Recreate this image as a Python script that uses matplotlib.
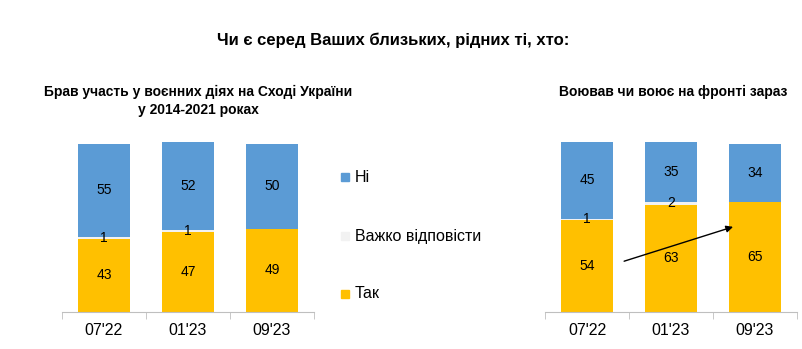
import matplotlib.pyplot as plt
import numpy as np

plt.rcParams['font.family'] = ['Liberation Sans', 'DejaVu Sans']

waves = ["07'22", "01'23", "09'23"]

# left: took part in fighting in the East 2014-2021
left_yes = [43, 47, 49]
left_dk = [1, 1, 0]
left_no = [55, 52, 50]

# right: fought or fighting at the front now
right_yes = [54, 63, 65]
right_dk = [1, 2, 0]
right_no = [45, 35, 34]

c_yes = '#FFC000'
c_dk = '#F2F2F2'
c_no = '#5B9BD5'

fig = plt.figure(figsize=(8.02, 3.49), dpi=100)
ax1 = fig.add_axes([0.0773, 0.106, 0.3142, 0.487])
ax2 = fig.add_axes([0.6796, 0.106, 0.3142, 0.487])


def draw(ax, yes, dk, no):
    x = np.arange(len(waves))
    yes = np.array(yes)
    dk = np.array(dk)
    no = np.array(no)
    w = 0.61
    ax.bar(x, yes, w, color=c_yes, linewidth=0)
    ax.bar(x, dk, w, bottom=yes, color=c_dk, linewidth=0)
    ax.bar(x, no, w, bottom=yes + dk, color=c_no, linewidth=0)
    for i in x:
        ax.text(i, yes[i] / 2, str(yes[i]), ha='center', va='center', fontsize=10)
        if dk[i] > 0:
            ax.text(i, yes[i] + dk[i] / 2, str(dk[i]), ha='center', va='center', fontsize=10)
        ax.text(i, yes[i] + dk[i] + no[i] / 2, str(no[i]), ha='center', va='center', fontsize=10)
    ax.set_xlim(-0.5, 2.5)
    ax.set_ylim(0, 100)
    ax.set_yticks([])
    ax.set_xticks(x)
    ax.set_xticklabels(waves, fontsize=11.5)
    ax.set_xticks([-0.5, 0.5, 1.5, 2.5], minor=True)
    ax.tick_params(axis='x', which='major', length=0, pad=8)
    ax.tick_params(axis='x', which='minor', length=5, color='#BFBFBF')
    for s in ['top', 'right', 'left']:
        ax.spines[s].set_visible(False)
    ax.spines['bottom'].set_color('#BFBFBF')


draw(ax1, left_yes, left_dk, left_no)
draw(ax2, right_yes, right_dk, right_no)

ax2.annotate('', xy=(1.77, 50.6), xytext=(0.41, 29.4),
             arrowprops=dict(arrowstyle='-|>', color='black', lw=1, mutation_scale=10))

fig.text(0.49, 0.885, 'Чи є серед Ваших близьких, рідних ті, хто:', ha='center', va='center',
         fontsize=12, fontweight='bold')
fig.text(0.247, 0.71, 'Брав участь у воєнних діях на Сході України\nу 2014-2021 роках', ha='center',
         va='center', fontsize=10, fontweight='bold', linespacing=1.35)
fig.text(0.84, 0.736, 'Воював чи воює на фронті зараз', ha='center', va='center',
         fontsize=10, fontweight='bold')

leg = [('Ні', c_no, 177), ('Важко відповісти', c_dk, 236), ('Так', c_yes, 294)]
for lab, col, ypx in leg:
    y = 1 - ypx / 349
    fig.patches.append(plt.Rectangle((341 / 802, y - 4 / 349), 8 / 802, 8 / 349,
                                     transform=fig.transFigure, color=col))
    fig.text(355 / 802, y, lab, ha='left', va='center', fontsize=11.5)

fig.savefig('out.png', dpi=100)
